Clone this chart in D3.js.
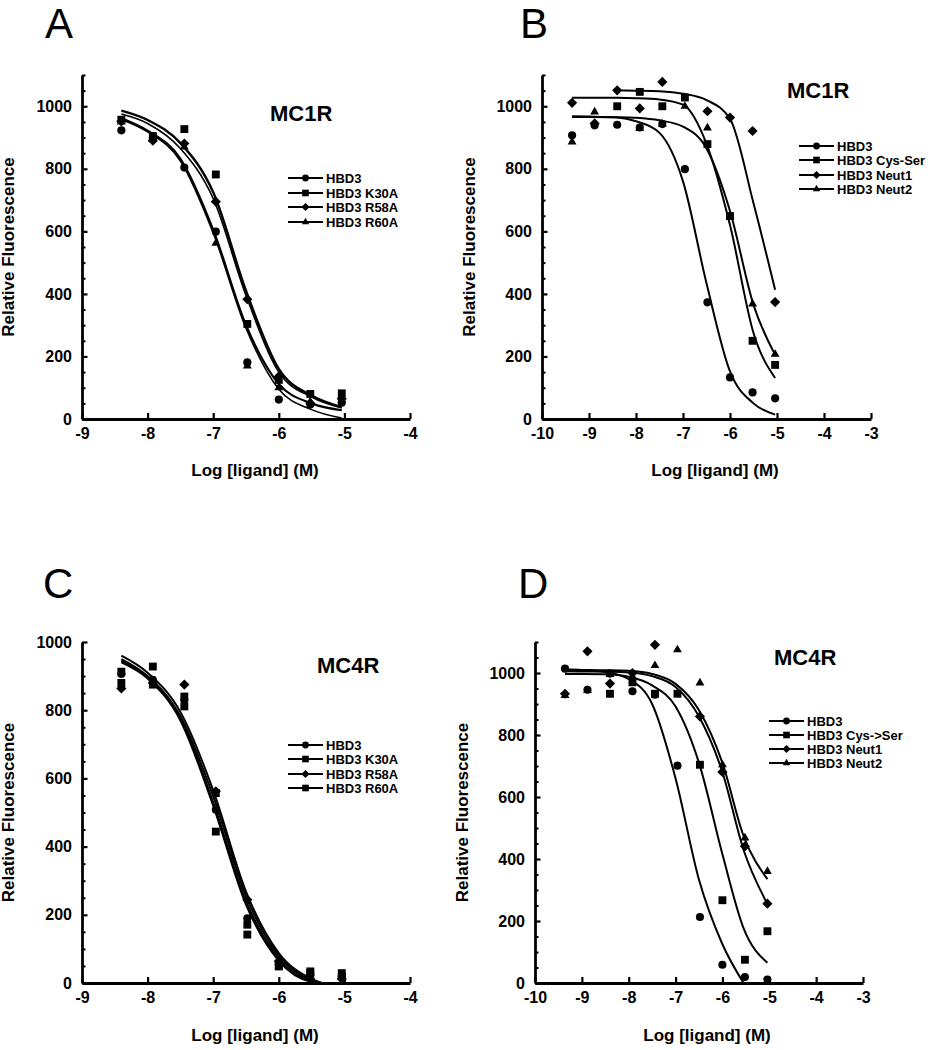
<!DOCTYPE html>
<html><head><meta charset="utf-8">
<script src="https://cdn.jsdelivr.net/npm/d3@7"></script>
<style>
body{margin:0;background:#fff}
svg{display:block}
text{font-family:"Liberation Sans",Arial,Helvetica,sans-serif;fill:#000}
</style>
</head><body>
<svg id="chart" width="928" height="1050"></svg>
<script>
// ---------------- DATA ----------------
// Tick labels
const yTicks = [0, 200, 400, 600, 800, 1000];
const xTicksAC = [-9, -8, -7, -6, -5, -4];
const xTicksBD = [-10, -9, -8, -7, -6, -5, -4, -3];

// Panel A (MC1R, mutants)
const seriesA = ["HBD3", "HBD3 K30A", "HBD3 R58A", "HBD3 R60A"];
const doseA = [-8.4, -7.92, -7.44, -6.96, -6.48, -6.0, -5.52, -5.04];
const pointsA_HBD3 = [923, 899, 804, 599, 181, 62, 46, 52];
const pointsA_K30A = [957, 905, 927, 782, 304, 125, 80, 82];
const pointsA_R58A = [952, 890, 881, 695, 383, 136, 50, 65];
const pointsA_R60A = [950, 895, 870, 562, 170, 100, 55, 60];
const fitDoseA = [-8.4, -8, -7.5, -7, -6.5, -6, -5.5, -5.04];
const fitA_HBD3 = [962, 922, 832, 605, 300, 112, 50, 28];
const fitA_K30A = [975, 945, 865, 705, 395, 150, 70, 35];
const fitA_R58A = [986, 956, 882, 725, 410, 160, 75, 38];
const fitA_R60A = [958, 918, 825, 595, 290, 95, 30, 3];

// Panel B (MC1R, analogues)
const seriesB = ["HBD3", "HBD3 Cys-Ser", "HBD3 Neut1", "HBD3 Neut2"];
const doseB = [-9.36, -8.88, -8.4, -7.92, -7.44, -6.96, -6.48, -6.0, -5.52, -5.04];
const pointsB_HBD3 = [907, 939, 941, 932, 943, 799, 373, 133, 85, 66];
const pointsB_CysSer = [null, null, 1000, 1046, 1000, 1028, 879, 649, 250, 173];
const pointsB_Neut1 = [1011, 945, 1051, 993, 1078, null, 984, 964, 921, 374];
const pointsB_Neut2 = [886, 982, null, 929, 943, 1000, 931, 649, 368, 207];
const fitDoseB = [-9.36, -9, -8.4, -8, -7.5, -7, -6.5, -6, -5.5, -5.04];
const fitB_HBD3 = [968, 967, 964, 952, 915, 760, 434, 152, 50, 14];
const fitB_CysSer = [1027, 1027, 1027, 1026, 1022, 1005, 880, 620, 275, 131];
const fitB_Neut1 = [null, null, 1051, 1050, 1048, 1040, 1020, 960, 690, 413];
const fitB_Neut2 = [966, 966, 965, 963, 955, 935, 865, 665, 365, 205];

// Panel C (MC4R, mutants)
const seriesC = ["HBD3", "HBD3 K30A", "HBD3 R58A", "HBD3 R60A"];
const doseC = [-8.4, -7.92, -7.44, -6.96, -6.48, -6.0, -5.52, -5.04];
const pointsC_HBD3 = [906, 889, 830, 508, 190, 54, 24, 20];
const pointsC_K30A = [913, 928, 811, 444, 142, 49, 34, 29];
const pointsC_R58A = [864, 880, 875, 562, 244, 64, 12, 12];
const pointsC_R60A = [880, 875, 840, 557, 171, 49, 29, 20];
const fitDoseC = [-8.4, -8, -7.5, -7, -6.5, -6, -5.5, -5.35];
const fitC_HBD3 = [950, 900, 782, 548, 255, 80, 8, 0];
const fitC_K30A = [940, 893, 770, 520, 230, 65, 3, 0];
const fitC_R58A = [960, 910, 795, 565, 268, 88, 12, 0];
const fitC_R60A = [945, 897, 776, 530, 240, 72, 5, 0];

// Panel D (MC4R, analogues)
const seriesD = ["HBD3", "HBD3 Cys->Ser", "HBD3 Neut1", "HBD3 Neut2"];
const doseD = [-9.36, -8.88, -8.4, -7.92, -7.44, -6.96, -6.48, -6.0, -5.52, -5.04];
const pointsD_HBD3 = [1014, 946, 998, 941, 930, 701, 213, 59, 19, 11];
const pointsD_CysSer = [null, null, 933, 970, 933, 933, 704, 267, 75, 167];
const pointsD_Neut1 = [933, 1070, 966, 1000, 1091, null, 860, 681, 441, 256];
const pointsD_Neut2 = [928, 944, 995, 989, 1024, 1075, 968, 704, 468, 360];
const fitDoseD = [-9.36, -9, -8.5, -8, -7.5, -7, -6.5, -6, -5.55, -5.04];
const fitD_HBD3 = [1012, 1010, 1003, 980, 900, 660, 333, 125, 0, null];
const fitD_CysSer = [997, 997, 996, 988, 960, 892, 710, 415, 177, 65];
const fitD_Neut1 = [1006, 1005, 1004, 1002, 990, 955, 860, 680, 430, 255];
const fitD_Neut2 = [1010, 1010, 1009, 1007, 997, 965, 880, 710, 475, 335];

// ---------------- LAYOUT / STYLE ----------------
const panels = [
  { letter: "A", title: "MC1R", series: seriesA, dose: doseA, fitDose: fitDoseA,
    points: [pointsA_HBD3, pointsA_K30A, pointsA_R58A, pointsA_R60A],
    fits: [fitA_HBD3, fitA_K30A, fitA_R58A, fitA_R60A],
    symbols: ["circle", "square", "diamond", "triangle"], fitWidths: [2.2, 1.6, 2.4, 1.6],
    xTicks: xTicksAC, yMax: 1100, xr: [82, 410], yr: [419, 75],
    letterPos: [45, 38], titlePos: [270, 121], xTitle: [255, 476], yTitleX: 14,
    legend: { x0: 288, x1: 323, tx: 326, rows: [178, 193, 207, 222] } },
  { letter: "B", title: "MC1R", series: seriesB, dose: doseB, fitDose: fitDoseB,
    points: [pointsB_HBD3, pointsB_CysSer, pointsB_Neut1, pointsB_Neut2],
    fits: [fitB_HBD3, fitB_CysSer, fitB_Neut1, fitB_Neut2],
    symbols: ["circle", "square", "diamond", "triangle"], fitWidths: [2, 2, 2, 2],
    xTicks: xTicksBD, yMax: 1100, xr: [542, 871], yr: [419, 75],
    letterPos: [520, 38], titlePos: [787, 98], xTitle: [715, 476], yTitleX: 475,
    legend: { x0: 799, x1: 834, tx: 837, rows: [146, 160, 175, 189] } },
  { letter: "C", title: "MC4R", series: seriesC, dose: doseC, fitDose: fitDoseC,
    points: [pointsC_HBD3, pointsC_K30A, pointsC_R58A, pointsC_R60A],
    fits: [fitC_HBD3, fitC_K30A, fitC_R58A, fitC_R60A],
    symbols: ["circle", "square", "diamond", "square"], fitWidths: [2, 2, 2, 2],
    xTicks: xTicksAC, yMax: 1000, xr: [82, 410], yr: [983, 642],
    letterPos: [43, 598], titlePos: [317, 673], xTitle: [255, 1041], yTitleX: 14,
    legend: { x0: 288, x1: 323, tx: 326, rows: [745, 759, 774, 788] } },
  { letter: "D", title: "MC4R", series: seriesD, dose: doseD, fitDose: fitDoseD,
    points: [pointsD_HBD3, pointsD_CysSer, pointsD_Neut1, pointsD_Neut2],
    fits: [fitD_HBD3, fitD_CysSer, fitD_Neut1, fitD_Neut2],
    symbols: ["circle", "square", "diamond", "triangle"], fitWidths: [2, 2, 2, 2],
    xTicks: xTicksBD, yMax: 1100, xr: [535, 863], yr: [983, 642],
    letterPos: [518, 598], titlePos: [774, 665], xTitle: [707, 1041], yTitleX: 468,
    legend: { x0: 769, x1: 804, tx: 807, rows: [721, 735, 749, 763] } }
];

const svg = d3.select("#chart");

function symbolPath(type, big) {
  if (type === "circle") return d3.symbol(d3.symbolCircle, big ? 52 : 36)();
  if (type === "square") return d3.symbol(d3.symbolSquare, big ? 62 : 44)();
  if (type === "diamond") return d3.symbol(d3.symbolSquare, big ? 52 : 34)();
  return d3.symbol(d3.symbolTriangle, big ? 34 : 24)();
}
function symbolRot(type) { return type === "diamond" ? " rotate(45)" : ""; }

panels.forEach(p => {
  const g = svg.append("g");
  const x = d3.scaleLinear().domain([p.xTicks[0], p.xTicks[p.xTicks.length - 1]]).range(p.xr);
  const y = d3.scaleLinear().domain([0, p.yMax]).range(p.yr);

  // Minor y ticks
  const minor = d3.range(50, p.yMax + 1, 50).filter(v => v % 200 !== 0);
  g.append("g").attr("transform", `translate(${p.xr[0]},0)`)
    .call(d3.axisLeft(y).tickValues(minor).tickSize(-3.5).tickSizeOuter(0).tickFormat(""))
    .call(a => a.select(".domain").remove())
    .call(a => a.selectAll("line").attr("stroke-width", 2));

  // Major y axis
  g.append("g").attr("transform", `translate(${p.xr[0]},0)`)
    .call(d3.axisLeft(y).tickValues(yTicks).tickSize(-5.5).tickSizeOuter(0).tickPadding(10).tickFormat(d => String(d)))
    .call(a => a.select(".domain").attr("stroke-width", 2.8))
    .call(a => a.selectAll("line").attr("stroke-width", 2.2))
    .call(a => a.selectAll("text").attr("font-size", 16).attr("font-weight", "bold"));

  // x axis
  g.append("g").attr("transform", `translate(0,${p.yr[0]})`)
    .call(d3.axisBottom(x).tickValues(p.xTicks).tickSize(-6).tickSizeOuter(0).tickPadding(9).tickFormat(d => String(d)))
    .call(a => a.select(".domain").attr("stroke-width", 2.8))
    .call(a => a.selectAll("line").attr("stroke-width", 2.2))
    .call(a => a.selectAll("text").attr("font-size", 16).attr("font-weight", "bold"));

  // Fitted curves
  const line = d3.line()
    .defined(d => d[1] !== null)
    .x(d => x(d[0])).y(d => y(d[1]))
    .curve(d3.curveMonotoneX);
  p.fits.forEach((f, i) => {
    g.append("path")
      .attr("d", line(p.fitDose.map((xv, j) => [xv, f[j]])))
      .attr("fill", "none").attr("stroke", "#000")
      .attr("stroke-width", p.fitWidths[i]);
  });

  // Data points
  p.points.forEach((vals, i) => {
    const type = p.symbols[i];
    g.append("g").selectAll("path")
      .data(p.dose.map((xv, j) => [xv, vals[j]]).filter(d => d[1] !== null))
      .join("path")
      .attr("d", symbolPath(type, true))
      .attr("transform", d => `translate(${x(d[0])},${y(d[1])})${symbolRot(type)}`)
      .attr("fill", "#000");
  });

  // Legend
  const lg = g.append("g");
  p.series.forEach((name, i) => {
    const ry = p.legend.rows[i];
    const type = p.symbols[i];
    lg.append("line").attr("x1", p.legend.x0).attr("x2", p.legend.x1)
      .attr("y1", ry).attr("y2", ry).attr("stroke", "#000").attr("stroke-width", 2);
    lg.append("path").attr("d", symbolPath(type, false))
      .attr("transform", `translate(${(p.legend.x0 + p.legend.x1) / 2},${ry})${symbolRot(type)}`)
      .attr("fill", "#000");
    lg.append("text").attr("x", p.legend.tx).attr("y", ry + 4.7)
      .attr("font-size", 13).attr("font-weight", "bold").text(name);
  });

  // Titles
  g.append("text").attr("x", p.letterPos[0]).attr("y", p.letterPos[1])
    .attr("font-size", 42).text(p.letter);
  g.append("text").attr("x", p.titlePos[0]).attr("y", p.titlePos[1])
    .attr("font-size", 22).attr("font-weight", "bold").text(p.title);
  g.append("text").attr("x", p.xTitle[0]).attr("y", p.xTitle[1])
    .attr("text-anchor", "middle").attr("font-size", 17).attr("font-weight", "bold")
    .text("Log [ligand] (M)");
  g.append("text")
    .attr("transform", `translate(${p.yTitleX},${(p.yr[0] + p.yr[1]) / 2}) rotate(-90)`)
    .attr("text-anchor", "middle").attr("font-size", 17).attr("font-weight", "bold")
    .text("Relative Fluorescence");
});
</script>
</body></html>
